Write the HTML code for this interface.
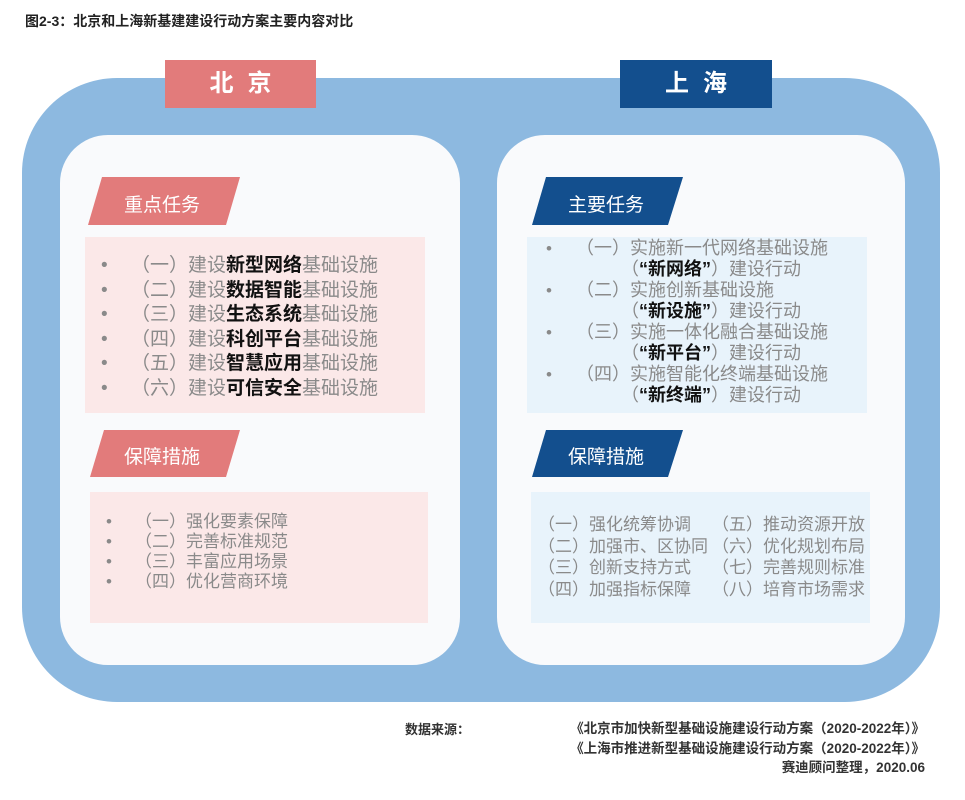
<!DOCTYPE html>
<html><head><meta charset="utf-8"><style>
body{margin:0;width:965px;height:800px;background:#fff;position:relative;overflow:hidden;font-family:"Liberation Sans","Noto Sans CJK SC",sans-serif;}
.a{position:absolute;white-space:nowrap;}
.g{color:#8a8a8a}
.b{color:#111;font-weight:bold}
</style></head><body>
<div class="a" style="left:25px;top:11px;font-size:14px;font-weight:bold;color:#222;">图2-3：北京和上海新基建建设行动方案主要内容对比</div>
<div class="a" style="left:22px;top:78px;width:918px;height:624px;border-radius:95px;background:#8db9e0;"></div>
<div class="a" style="left:60px;top:135px;width:400px;height:530px;border-radius:48px;background:#f9fafc;"></div>
<div class="a" style="left:497px;top:135px;width:408px;height:530px;border-radius:48px;background:#f9fafc;"></div>
<div class="a" style="left:165px;top:60px;width:151px;height:48px;background:#e27b7b;color:#fff;font-size:24px;font-weight:bold;text-align:center;line-height:48px;letter-spacing:14px;text-indent:14px;">北京</div>
<div class="a" style="left:620px;top:60px;width:152px;height:48px;background:#134f8e;color:#fff;font-size:24px;font-weight:bold;text-align:center;line-height:48px;letter-spacing:14px;text-indent:14px;">上海</div>

<svg class="a" style="left:0;top:0" width="965" height="800">
<polygon points="102,177 240,177 226,225 88,225" fill="#e27b7b"/>
<polygon points="104,430 240,430 226,477 90,477" fill="#e27b7b"/>
<polygon points="546,177 683,177 668,225 532,225" fill="#134f8e"/>
<polygon points="546,430 683,430 668,477 532,477" fill="#134f8e"/>
</svg>
<div class="a" style="left:124px;top:190px;font-size:19px;color:#fff;">重点任务</div>
<div class="a" style="left:124px;top:442px;font-size:19px;color:#fff;">保障措施</div>
<div class="a" style="left:568px;top:190px;font-size:19px;color:#fff;">主要任务</div>
<div class="a" style="left:568px;top:442px;font-size:19px;color:#fff;">保障措施</div>

<div class="a" style="left:85px;top:237px;width:340px;height:176px;background:#fbe8e8;"></div>
<div class="a" style="left:90px;top:492px;width:338px;height:131px;background:#fbe8e8;"></div>
<div class="a" style="left:527px;top:237px;width:340px;height:176px;background:#e8f3fb;"></div>
<div class="a" style="left:531px;top:492px;width:339px;height:131px;background:#e8f3fb;"></div>

<div class="a g" style="left:101px;top:254px;font-size:19px;line-height:24.5px;">•<br>•<br>•<br>•<br>•<br>•</div>
<div class="a" style="left:131px;top:254px;font-size:19px;line-height:24.5px;">
<div><span class="g">（一）建设</span><span class="b">新型网络</span><span class="g">基础设施</span></div>
<div><span class="g">（二）建设</span><span class="b">数据智能</span><span class="g">基础设施</span></div>
<div><span class="g">（三）建设</span><span class="b">生态系统</span><span class="g">基础设施</span></div>
<div><span class="g">（四）建设</span><span class="b">科创平台</span><span class="g">基础设施</span></div>
<div><span class="g">（五）建设</span><span class="b">智慧应用</span><span class="g">基础设施</span></div>
<div><span class="g">（六）建设</span><span class="b">可信安全</span><span class="g">基础设施</span></div>
</div>

<div class="a g" style="left:106px;top:512px;font-size:17px;line-height:20px;">•<br>•<br>•<br>•</div>
<div class="a g" style="left:135px;top:512px;font-size:17px;line-height:20px;">
<div>（一）强化要素保障</div>
<div>（二）完善标准规范</div>
<div>（三）丰富应用场景</div>
<div>（四）优化营商环境</div>
</div>

<div class="a g" style="left:546px;top:238px;font-size:17px;line-height:21px;">•<br><br>•<br><br>•<br><br>•</div>
<div class="a" style="left:576px;top:238px;font-size:18px;line-height:21px;" >
<div class="g">（一）实施新一代网络基础设施</div>
<div class="g" style="padding-left:45px">（<span class="b">“新网络”</span>）建设行动</div>
<div class="g">（二）实施创新基础设施</div>
<div class="g" style="padding-left:45px">（<span class="b">“新设施”</span>）建设行动</div>
<div class="g">（三）实施一体化融合基础设施</div>
<div class="g" style="padding-left:45px">（<span class="b">“新平台”</span>）建设行动</div>
<div class="g">（四）实施智能化终端基础设施</div>
<div class="g" style="padding-left:45px">（<span class="b">“新终端”</span>）建设行动</div>
</div>

<div class="a g" style="left:538px;top:514px;font-size:17px;line-height:21.5px;">
<div>（一）强化统筹协调</div>
<div>（二）加强市、区协同</div>
<div>（三）创新支持方式</div>
<div>（四）加强指标保障</div>
</div>
<div class="a g" style="left:712px;top:514px;font-size:17px;line-height:21.5px;">
<div>（五）推动资源开放</div>
<div>（六）优化规划布局</div>
<div>（七）完善规则标准</div>
<div>（八）培育市场需求</div>
</div>

<div class="a" style="left:405px;top:719px;font-size:13px;font-weight:bold;color:#333;">数据来源：</div>
<div class="a" style="right:40px;top:719px;font-size:13.5px;font-weight:bold;color:#333;text-align:right;line-height:19.5px;">
<div>《北京市加快新型基础设施建设行动方案（2020-2022年）》</div>
<div>《上海市推进新型基础设施建设行动方案（2020-2022年）》</div>
<div>赛迪顾问整理，2020.06</div>
</div>
</body></html>
